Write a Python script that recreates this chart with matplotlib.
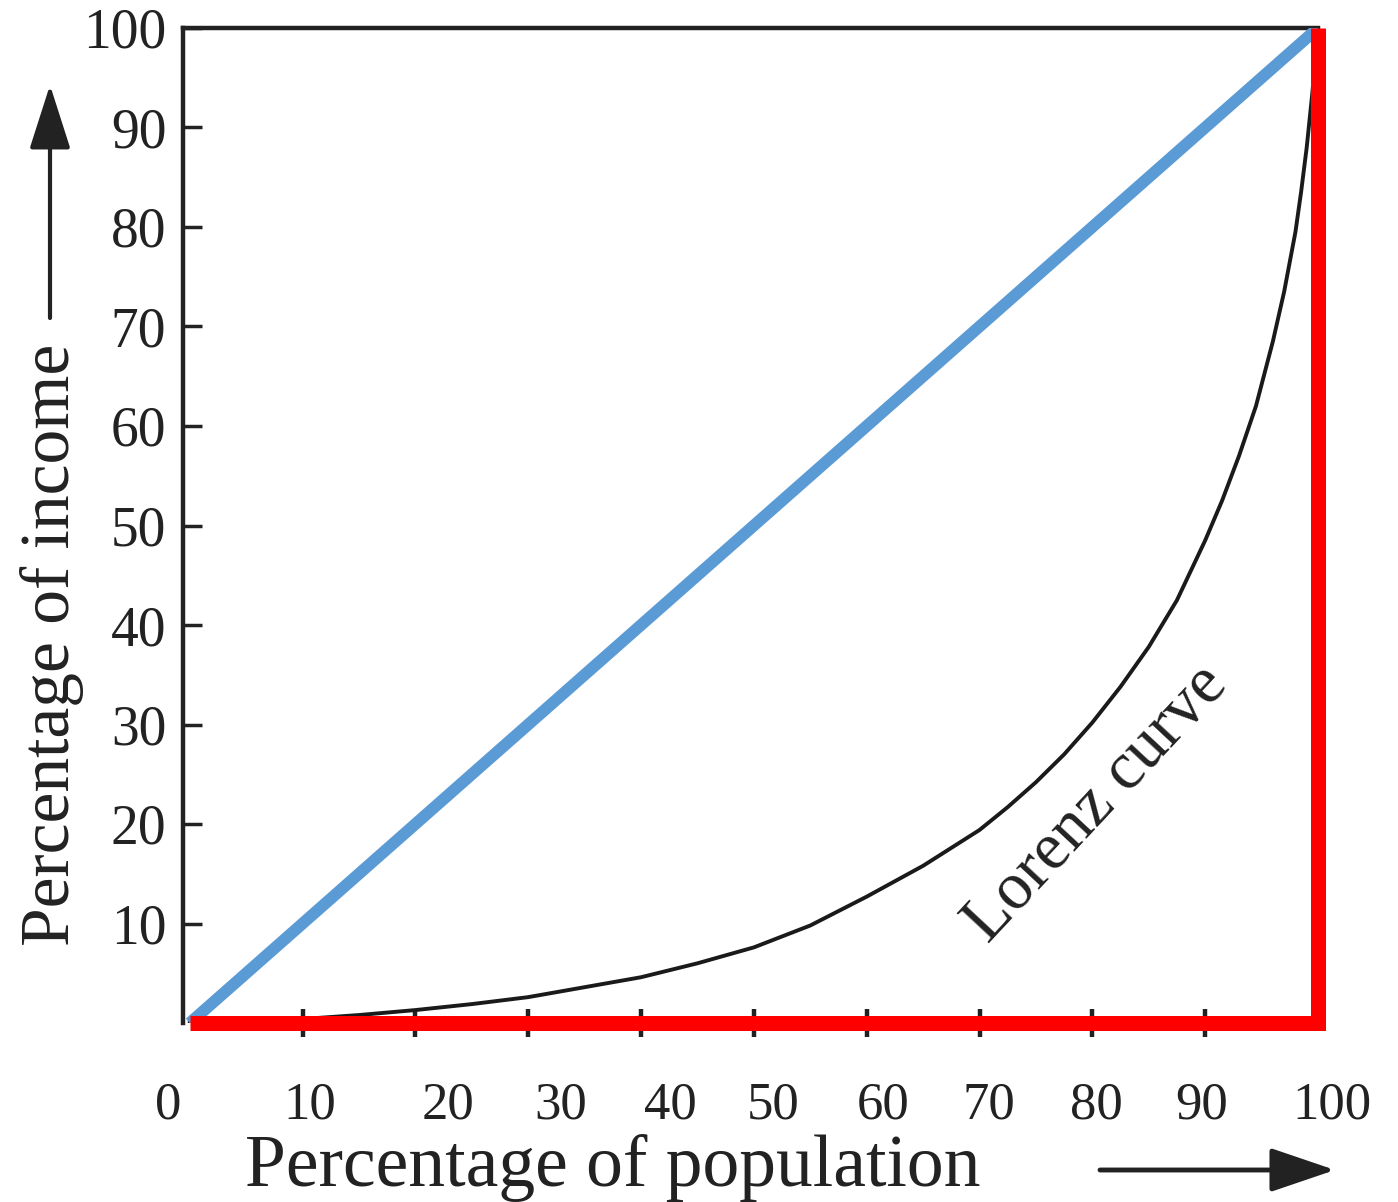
import matplotlib
matplotlib.use("Agg")
import matplotlib.pyplot as plt
from matplotlib.transforms import ScaledTranslation

# ---- data ----
population_pct = [0, 5, 10, 15, 20, 25, 30, 35, 40, 45, 50, 55, 60, 65, 70,
                  72.5, 75, 77.5, 80, 82.5, 85, 87.5, 90, 91.5, 93, 94.5, 96,
                  97, 98, 98.5, 99, 99.5, 100]
income_pct = [0, 0.1, 0.4, 0.8, 1.3, 1.9, 2.6, 3.6, 4.6, 6.0, 7.6, 9.8, 12.7,
              15.8, 19.4, 21.7, 24.2, 27.0, 30.2, 33.8, 37.8, 42.5, 48.5,
              52.5, 57.0, 62.0, 68.5, 73.5, 79.5, 83.5, 88.0, 93.5, 100]
equality_x = [0, 100]
equality_y = [0, 100]
inequality_x = [0, 100, 100]
inequality_y = [0, 0, 100]
x_tick_values = [0, 10, 20, 30, 40, 50, 60, 70, 80, 90, 100]
x_tick_labels = ["0", "10", "20", "30", "40", "50", "60", "70", "80", "90", "100"]
x_mark_values = [10, 20, 30, 40, 50, 60, 70, 80, 90]
y_tick_values = [10, 20, 30, 40, 50, 60, 70, 80, 90, 100]
y_tick_labels = ["10", "20", "30", "40", "50", "60", "70", "80", "90", "100"]

# ---- layout / style ----
W, H = 1398, 1202
DPI = 100
x_label_dx_px = [-22, 7, 33, 32, 29, 19, 16, 9, 4, -4, 14]
INK = "#222222"
plt.rcParams["font.family"] = ["Liberation Serif", "DejaVu Serif"]

fig = plt.figure(figsize=(W / DPI, H / DPI), dpi=DPI)
fig.patch.set_facecolor("white")
ax = fig.add_axes([183 / W, (H - 1023) / H, (1318 - 183) / W, (1023 - 28) / H])
ax.set_xlim(-0.6, 100)
ax.set_ylim(0, 100)

for side in ["bottom", "right"]:
    ax.spines[side].set_visible(False)
for side in ["top", "left"]:
    ax.spines[side].set_linewidth(3.2)
    ax.spines[side].set_color(INK)

# Lorenz curve
ax.plot(population_pct, income_pct, color="#1a1a1a", lw=2.8, zorder=3,
        solid_joinstyle="round")
# line of equality
ax.plot(equality_x, equality_y, color="#5B9BD5", lw=8.5, zorder=4,
        solid_capstyle="butt")
# line of perfect inequality
ax.plot(inequality_x, inequality_y, color="#FF0000", lw=10.8, zorder=5,
        clip_on=False, solid_joinstyle="miter", solid_capstyle="butt")

# x ticks: labels on major, marks on minor
ax.xaxis.remove_overlapping_locs = False
ax.set_xticks(x_tick_values)
ax.set_xticklabels(x_tick_labels)
ax.set_xticks(x_mark_values, minor=True)
ax.tick_params(axis="x", which="major", length=0, pad=42, labelsize=38,
               labelcolor=INK)
ax.tick_params(axis="x", which="minor", direction="inout", length=20,
               width=3.2, color=INK)
for lbl, dx in zip(ax.get_xticklabels(), x_label_dx_px):
    lbl.set_transform(lbl.get_transform() +
                      ScaledTranslation(dx / DPI, 0, fig.dpi_scale_trans))

ax.set_yticks(y_tick_values)
ax.set_yticklabels(y_tick_labels)
ax.tick_params(axis="y", which="major", direction="in", length=14, width=2.5,
               color=INK, pad=12, labelsize=40, labelcolor=INK)

# curve label
ax.text(80.4, 22.0, "Lorenz curve", rotation=47, rotation_mode="anchor",
        ha="center", va="center", fontsize=48, color=INK, zorder=6)

# axis titles
fig.text(245 / W, (H - 1186) / H, "Percentage of population", ha="left",
         va="baseline", fontsize=53, color=INK)
fig.text(52 / W, (H - 645) / H, "Percentage of income", rotation=90,
         ha="center", va="center", fontsize=50, color=INK)

# arrows
ax.annotate("", xy=(50 / W, (H - 85) / H), xytext=(50 / W, (H - 318) / H),
            xycoords="figure fraction", textcoords="figure fraction",
            arrowprops=dict(arrowstyle="-|>,head_length=1.0,head_width=0.32",
                            mutation_scale=40, lw=3, color=INK,
                            shrinkA=0, shrinkB=0))
ax.annotate("", xy=(1335 / W, (H - 1170) / H), xytext=(1100 / W, (H - 1170) / H),
            xycoords="figure fraction", textcoords="figure fraction",
            arrowprops=dict(arrowstyle="-|>,head_length=1.0,head_width=0.34",
                            mutation_scale=40, lw=3.5, color=INK,
                            shrinkA=0, shrinkB=0))

fig.savefig("out.png", dpi=DPI, facecolor="white")
